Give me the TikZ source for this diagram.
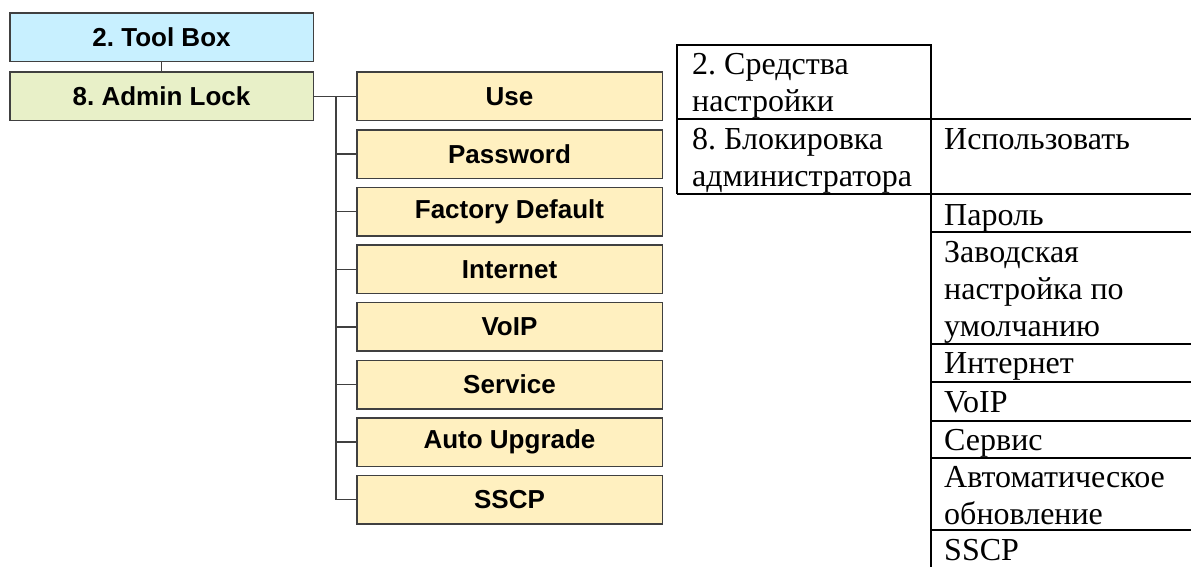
\documentclass[tikz,border=0pt]{standalone}
\usepackage{fontspec}
\setmainfont{Liberation Serif}
\setsansfont{Liberation Sans}
\usetikzlibrary{positioning}

\definecolor{toolcyan}{HTML}{C8F0FF}
\definecolor{lockgreen}{HTML}{E8F0C8}
\definecolor{itemyellow}{HTML}{FFF0C0}
\definecolor{edgegray}{HTML}{404040}
\frenchspacing

\begin{document}
\begin{tikzpicture}[
  x=1pt, y=-1pt, node distance=7.6pt,
  head/.style={draw=edgegray, line width=1.5pt, minimum width=303.5pt,
               minimum height=48.5pt, inner sep=0pt,
               font=\fontsize{26}{30}\selectfont\sffamily\bfseries},
  item/.style={draw=edgegray, line width=1.5pt, fill=itemyellow,
               minimum width=305.5pt, minimum height=48.5pt, inner sep=0pt,
               font=\fontsize{26}{30}\selectfont\sffamily\bfseries},
  cell/.style={anchor=base west, inner sep=0pt, align=left,
               font=\fontsize{32}{37}\selectfont},
  conn/.style={draw=edgegray, line width=1.5pt},
  rule/.style={line width=2pt}
]
  \useasboundingbox (0,0) rectangle (1191,567);

  % English menu tree
  \node[head, fill=toolcyan]  (toolbox) at (161.5,37.5) {2. Tool Box};
  \node[head, fill=lockgreen] (admin)   at (161.5,96.5) {8. Admin Lock};

  \node[item] (use) at (509.5,96.5) {Use};
  \node[item, below=of use]      (password) {Password};
  \node[item, below=of password] (factory)  {Factory Default};
  \node[item, below=of factory]  (internet) {Internet};
  \node[item, below=of internet] (voip)     {VoIP};
  \node[item, below=of voip]     (service)  {Service};
  \node[item, below=of service]  (upgrade)  {Auto Upgrade};
  \node[item, below=of upgrade]  (sscp)     {SSCP};

  \coordinate (trunk) at (336,96.5);
  \draw[conn] (toolbox) -- (admin);
  \draw[conn] (admin.east) -- (use.west);
  \draw[conn] (trunk) |- (sscp.west);
  \foreach \n in {password,factory,internet,voip,service,upgrade}
    \draw[conn] (trunk |- \n.west) -- (\n.west);

  % Russian table (base anchor sits on the last line)
  \draw[rule] (677,194) -- (677,45) -- (931,45) -- (931,567);
  \draw[rule] (677,119.5) -- (1191,119.5);
  \draw[rule] (677,194) -- (1191,194);
  \foreach \y in {232,344,382,421,458,530}
    \draw[rule] (931,\y) -- (1191,\y);

  \node[cell] (ru-tool) at (692,112)   {2. Средства\\настройки};
  \node[cell] (ru-lock) at (692,186.5) {8. Блокировка\\администратора};
  \node[cell] (ru-use)  at (944,149.5) {Использовать};
  \node[cell] (ru-pass) at (944,225)   {Пароль};
  \node[cell] (ru-fact) at (944,336)   {Заводская\\настройка по\\умолчанию};
  \node[cell] (ru-inet) at (944,373)   {Интернет};
  \node[cell] (ru-voip) at (944,412)   {VoIP};
  \node[cell] (ru-serv) at (944,450)   {Сервис};
  \node[cell] (ru-upgr) at (944,524)   {Автоматическое\\обновление};
  \node[cell] (ru-sscp) at (944,560)   {SSCP};
\end{tikzpicture}
\end{document}
